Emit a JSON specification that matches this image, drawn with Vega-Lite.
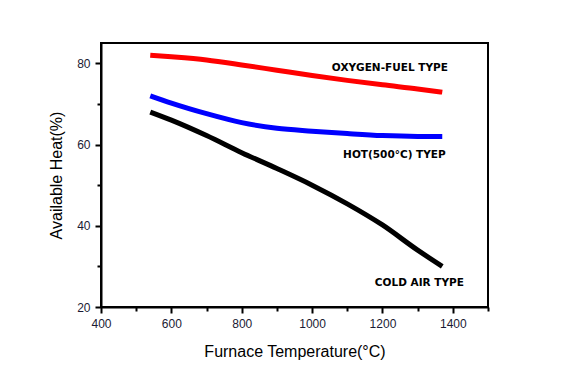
{
  "$schema": "https://vega.github.io/schema/vega-lite/v6.json",
  "autosize": "none",
  "width": 387,
  "height": 264,
  "padding": {"left": 101, "top": 43, "right": 78, "bottom": 61},
  "background": "white",
  "config": {
    "view": {"stroke": "black", "strokeWidth": 2},
    "font": "Liberation Sans"
  },
  "datasets": {
    "curves": [
      {"t": 540, "heat": 82.0, "type": "OXYGEN-FUEL"},
      {"t": 600, "heat": 81.6, "type": "OXYGEN-FUEL"},
      {"t": 700, "heat": 80.8, "type": "OXYGEN-FUEL"},
      {"t": 800, "heat": 79.6, "type": "OXYGEN-FUEL"},
      {"t": 900, "heat": 78.3, "type": "OXYGEN-FUEL"},
      {"t": 1000, "heat": 77.0, "type": "OXYGEN-FUEL"},
      {"t": 1100, "heat": 75.8, "type": "OXYGEN-FUEL"},
      {"t": 1200, "heat": 74.7, "type": "OXYGEN-FUEL"},
      {"t": 1300, "heat": 73.7, "type": "OXYGEN-FUEL"},
      {"t": 1370, "heat": 72.9, "type": "OXYGEN-FUEL"},
      {"t": 540, "heat": 72.0, "type": "HOT"},
      {"t": 600, "heat": 70.2, "type": "HOT"},
      {"t": 700, "heat": 67.6, "type": "HOT"},
      {"t": 800, "heat": 65.4, "type": "HOT"},
      {"t": 900, "heat": 64.0, "type": "HOT"},
      {"t": 1000, "heat": 63.3, "type": "HOT"},
      {"t": 1100, "heat": 62.7, "type": "HOT"},
      {"t": 1200, "heat": 62.2, "type": "HOT"},
      {"t": 1300, "heat": 62.0, "type": "HOT"},
      {"t": 1370, "heat": 62.0, "type": "HOT"},
      {"t": 540, "heat": 68.0, "type": "COLD"},
      {"t": 600, "heat": 66.0, "type": "COLD"},
      {"t": 700, "heat": 62.2, "type": "COLD"},
      {"t": 800, "heat": 58.0, "type": "COLD"},
      {"t": 900, "heat": 54.1, "type": "COLD"},
      {"t": 1000, "heat": 50.0, "type": "COLD"},
      {"t": 1100, "heat": 45.4, "type": "COLD"},
      {"t": 1200, "heat": 40.2, "type": "COLD"},
      {"t": 1300, "heat": 34.0, "type": "COLD"},
      {"t": 1370, "heat": 30.0, "type": "COLD"}
    ],
    "labels": [
      {"t": 1221, "heat": 78.9, "label": "OXYGEN-FUEL TYPE"},
      {"t": 1234, "heat": 57.4, "label": "HOT(500°C) TYEP"},
      {"t": 1305, "heat": 25.9, "label": "COLD AIR TYPE"}
    ]
  },
  "encoding": {
    "x": {
      "field": "t",
      "type": "quantitative",
      "scale": {"domain": [400, 1500], "nice": false, "zero": false},
      "axis": {
        "title": "Furnace Temperature(°C)",
        "titleFont": "Liberation Sans",
        "titleFontSize": 16,
        "titleFontWeight": "normal",
        "titleColor": "black",
        "titlePadding": 14,
        "values": [400, 500, 600, 700, 800, 900, 1000, 1100, 1200, 1300, 1400, 1500],
        "labelExpr": "datum.value % 200 === 0 && datum.value < 1500 ? datum.label : ''",
        "format": "d",
        "labelFontSize": 12,
        "labelColor": "#1a1a33",
        "labelPadding": 5,
        "labelFlush": false,
        "domainColor": "black",
        "domainWidth": 2,
        "tickColor": "black",
        "tickWidth": 2,
        "tickSize": {"condition": {"test": "datum.value % 200 === 0", "value": 6}, "value": 4},
        "grid": false
      }
    },
    "y": {
      "field": "heat",
      "type": "quantitative",
      "scale": {"domain": [20, 85], "nice": false, "zero": false},
      "axis": {
        "title": "Available Heat(%)",
        "titleFont": "Liberation Sans",
        "titleFontSize": 16,
        "titleFontWeight": "normal",
        "titleColor": "black",
        "titlePadding": 12,
        "values": [20, 30, 40, 50, 60, 70, 80],
        "labelExpr": "datum.value % 20 === 0 ? datum.label : ''",
        "labelFontSize": 12,
        "labelColor": "#1a1a33",
        "labelPadding": 5,
        "labelFlush": false,
        "domainColor": "black",
        "domainWidth": 2,
        "tickColor": "black",
        "tickWidth": 2,
        "tickSize": {"condition": {"test": "datum.value % 20 === 0", "value": 6}, "value": 4},
        "grid": false
      }
    }
  },
  "layer": [
    {
      "data": {"name": "curves"},
      "mark": {"type": "line", "strokeWidth": 5, "strokeCap": "butt", "interpolate": "monotone"},
      "encoding": {
        "color": {
          "field": "type",
          "type": "nominal",
          "scale": {"domain": ["OXYGEN-FUEL", "HOT", "COLD"], "range": ["#ff0000", "#0000ff", "#000000"]},
          "legend": null
        }
      }
    },
    {
      "data": {"name": "labels"},
      "mark": {"type": "text", "font": "DejaVu Sans", "fontWeight": "bold", "fontSize": 10.5, "color": "black", "baseline": "middle", "align": "center"},
      "encoding": {"text": {"field": "label"}}
    }
  ]
}
